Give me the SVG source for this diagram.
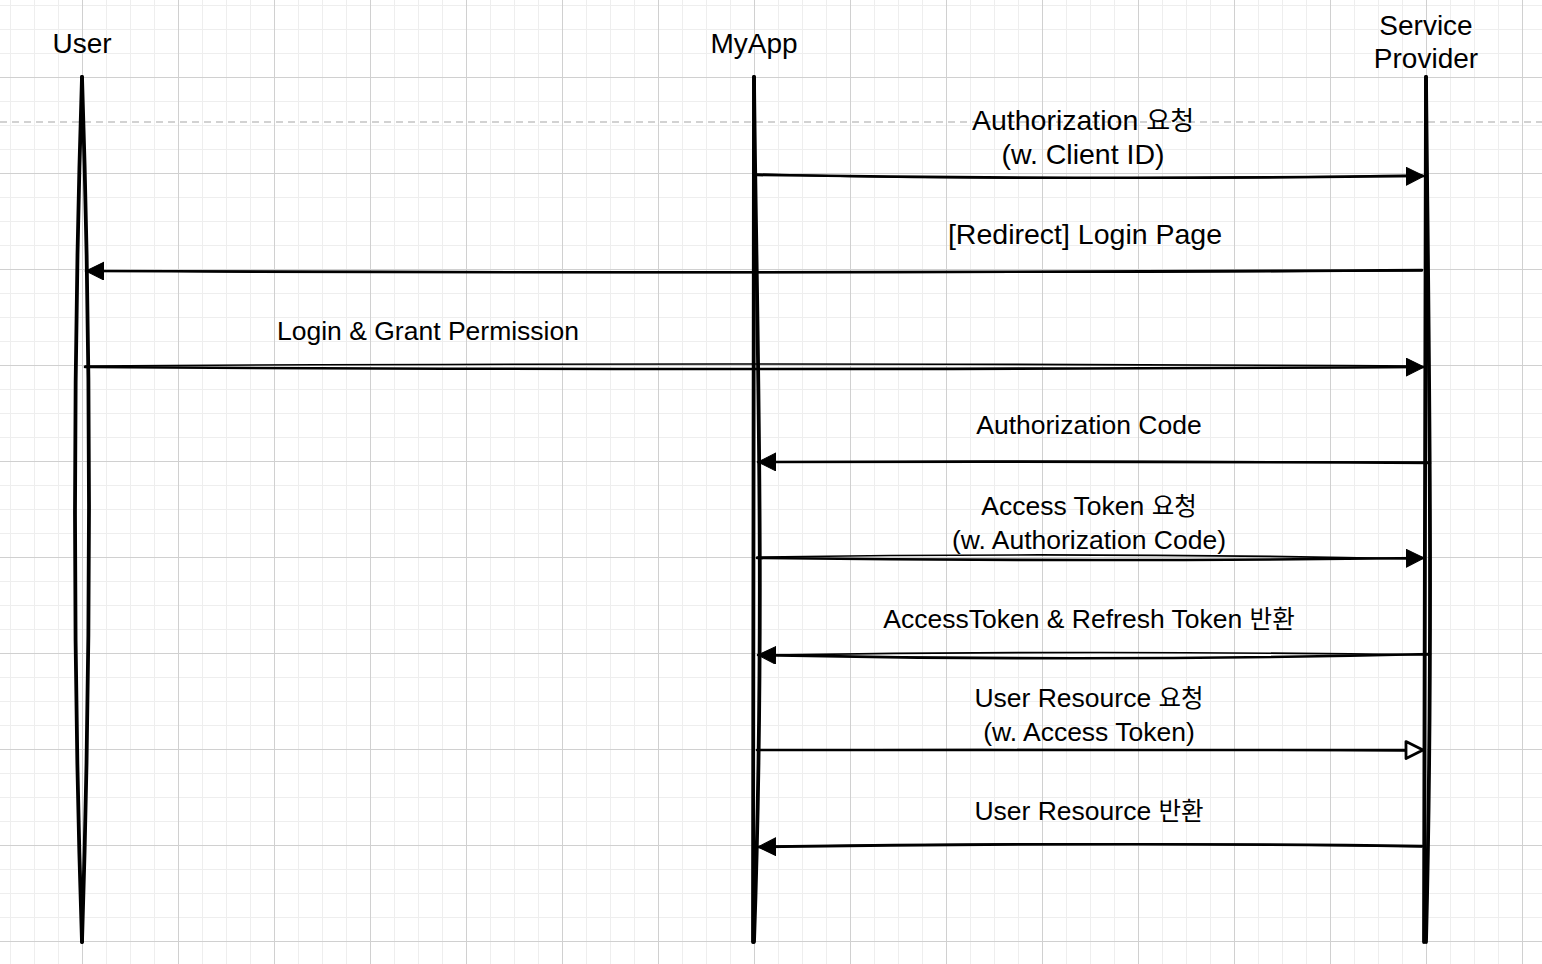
<svg xmlns="http://www.w3.org/2000/svg" width="1542" height="964" viewBox="0 0 1542 964">
  <style>
    .hdr { font-family: "Liberation Sans", Arial, "Noto Sans CJK KR", sans-serif; font-size: 28px; fill: #000; text-anchor: middle; }
    .lbl { font-family: "Liberation Sans", Arial, "Noto Sans CJK KR", sans-serif; font-size: 26.5px; fill: #000; text-anchor: middle; }
    .lbl-l { font-family: "Liberation Sans", Arial, "Noto Sans CJK KR", sans-serif; font-size: 28.5px; fill: #000; text-anchor: middle; }
    .ko { font-family: "Noto Sans CJK KR", sans-serif; font-size: 24.5px; }
    .ko-l { font-family: "Noto Sans CJK KR", sans-serif; font-size: 26px; }
    .life { fill: none; stroke: #000; stroke-width: 3.8; stroke-linecap: round; }
    .msg { fill: none; stroke: #000; stroke-width: 2.6; stroke-linecap: round; }
    .msg2 { fill: none; stroke: #000; stroke-width: 1.6; stroke-linecap: round; }
  </style>
  <defs>
    <pattern id="grid" x="82" y="77" width="96" height="96" patternUnits="userSpaceOnUse">
      <rect x="24" y="0" width="1" height="96" fill="#eeeeee"/>
      <rect x="48" y="0" width="1" height="96" fill="#eeeeee"/>
      <rect x="72" y="0" width="1" height="96" fill="#eeeeee"/>
      <rect x="0" y="24" width="96" height="1" fill="#eeeeee"/>
      <rect x="0" y="48" width="96" height="1" fill="#eeeeee"/>
      <rect x="0" y="72" width="96" height="1" fill="#eeeeee"/>
      <rect x="0" y="0" width="1" height="96" fill="#d0d0d0"/>
      <rect x="0" y="0" width="96" height="1" fill="#d0d0d0"/>
    </pattern>
    <marker id="head" markerUnits="userSpaceOnUse" markerWidth="20" markerHeight="20" refX="18" refY="9" orient="auto">
      <path d="M0,0 L18,9 L0,18 Z" fill="#000" stroke="#000" stroke-width="1" stroke-linejoin="round"/>
    </marker>
    <marker id="headOpen" markerUnits="userSpaceOnUse" markerWidth="22" markerHeight="22" refX="19" refY="10" orient="auto">
      <path d="M2,1.5 L19,10 L2,18.5 Z" fill="#fff" stroke="#000" stroke-width="2.8" stroke-linejoin="round"/>
    </marker>
  </defs>

  <rect width="1542" height="964" fill="#fff"/>
  <rect width="1542" height="964" fill="url(#grid)"/>
  <line x1="0" y1="122" x2="1542" y2="122" stroke="#c4c4c4" stroke-width="1.5" stroke-dasharray="7 5"/>

  <g id="user">
    <path class="life" d="M82,77 Q68,520 82,942"/>
    <path class="life" d="M82,77 Q96,500 82,942"/>
    <text class="hdr" x="82" y="53">User</text>
  </g>

  <g id="myapp">
    <path class="life" d="M754,77 L753,942"/>
    <path class="life" d="M754,77 C756,300 766,600 754,942"/>
    <text class="hdr" x="754" y="53">MyApp</text>
  </g>

  <g id="service-provider">
    <path class="life" d="M1426,77 L1424,942"/>
    <path class="life" d="M1426,77 C1428,300 1434,620 1426,942"/>
    <text class="hdr" x="1426" y="35">Service</text>
    <text class="hdr" x="1426" y="68">Provider</text>
  </g>

  <g id="connectors">
    <g id="m1">
      <path class="msg2" d="M757,174 Q1000,182 1422,175"/>
      <path class="msg" d="M757,175 Q1100,180 1424,176" marker-end="url(#head)"/>
      <text class="lbl-l" x="1083" y="130">Authorization <tspan class="ko-l">요청</tspan></text>
      <text class="lbl-l" x="1083" y="164">(w. Client ID)</text>
    </g>
    <g id="m2">
      <path class="msg2" d="M1422,271 Q800,274 95,271"/>
      <path class="msg" d="M1422,270 Q760,274 86,271" marker-end="url(#head)"/>
      <text class="lbl-l" x="1085" y="244">[Redirect] Login Page</text>
    </g>
    <g id="m3">
      <path class="msg2" d="M85,366 Q700,362 1420,366"/>
      <path class="msg" d="M85,367 Q700,371 1424,367" marker-end="url(#head)"/>
      <text class="lbl" x="428" y="340">Login &amp; Grant Permission</text>
    </g>
    <g id="m4">
      <path class="msg2" d="M1430,462 Q1100,461 770,462"/>
      <path class="msg" d="M1430,463 Q1100,461 758,462" marker-end="url(#head)"/>
      <text class="lbl" x="1089" y="434">Authorization Code</text>
    </g>
    <g id="m5">
      <path class="msg2" d="M757,557 Q1100,552 1420,559"/>
      <path class="msg" d="M757,558 Q1100,562 1424,558" marker-end="url(#head)"/>
      <text class="lbl" x="1089" y="515">Access Token <tspan class="ko">요청</tspan></text>
      <text class="lbl" x="1089" y="549">(w. Authorization Code)</text>
    </g>
    <g id="m6">
      <path class="msg2" d="M1430,655 Q1100,650 770,655"/>
      <path class="msg" d="M1430,654 Q1100,662 758,655" marker-end="url(#head)"/>
      <text class="lbl" x="1089" y="628">AccessToken &amp; Refresh Token <tspan class="ko">반환</tspan></text>
    </g>
    <g id="m7">
      <path class="msg2" d="M757,750 Q1100,749 1410,751"/>
      <path class="msg" d="M757,750 Q1100,751 1423,750" marker-end="url(#headOpen)"/>
      <text class="lbl" x="1089" y="707">User Resource <tspan class="ko">요청</tspan></text>
      <text class="lbl" x="1089" y="741">(w. Access Token)</text>
    </g>
    <g id="m8">
      <path class="msg2" d="M1422,847 Q1100,841 770,846"/>
      <path class="msg" d="M1422,846 Q1100,842 758,847" marker-end="url(#head)"/>
      <text class="lbl" x="1089" y="820">User Resource <tspan class="ko">반환</tspan></text>
    </g>
  </g>
</svg>
